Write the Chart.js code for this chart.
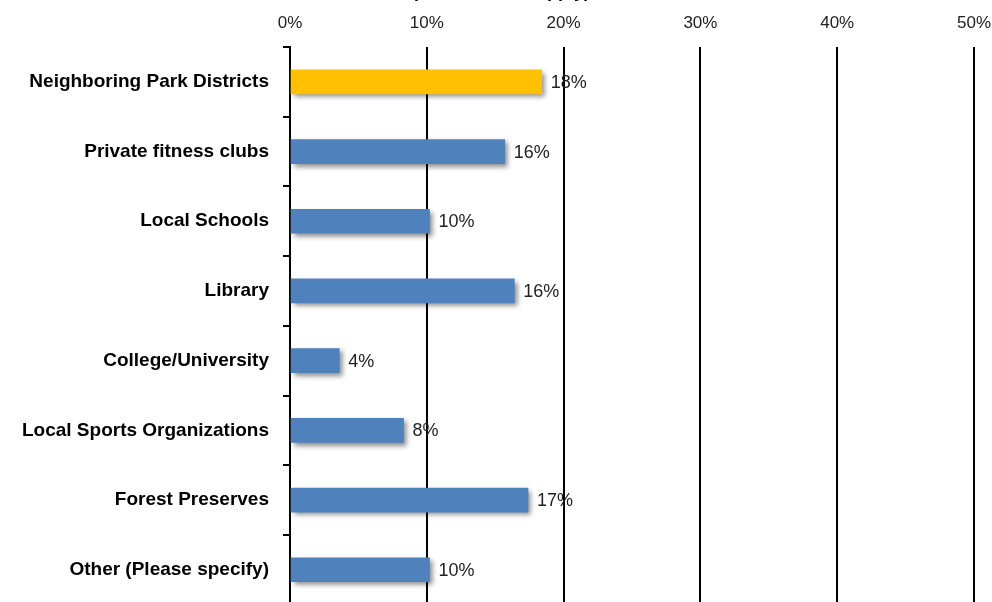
<!DOCTYPE html>
<html>
<head>
<meta charset="utf-8">
<script src="https://cdn.jsdelivr.net/npm/chart.js@4.4.1/dist/chart.umd.min.js"></script>
<style>
  html, body { margin: 0; padding: 0; background: #ffffff; overflow: hidden; }
  #wrap { width: 992px; height: 630px; position: relative; }
</style>
</head>
<body>
<div id="wrap"><canvas id="c" width="992" height="630"></canvas></div>
<script>
// Survey categories (top to bottom) and share of respondents, in percent
const categories = [
  'Neighboring Park Districts',
  'Private fitness clubs',
  'Local Schools',
  'Library',
  'College/University',
  'Local Sports Organizations',
  'Forest Preserves',
  'Other (Please specify)'
];
const shares = [18.4, 15.7, 10.2, 16.4, 3.6, 8.3, 17.4, 10.2];
const highlighted = ['Neighboring Park Districts'];
const axisMin = 0;
const axisMax = 50;
const axisStep = 10;
const titleText = '(check all that apply)';

const BLUE = '#4f81bd';
const GOLD = '#ffc000';
const barColors = categories.map(c => highlighted.includes(c) ? GOLD : BLUE);

const labelFont = "'Liberation Sans', Arial, sans-serif";
const numFont = "'Liberation Sans', Arial, sans-serif";

// Soft drop shadow behind the bars
const barShadow = {
  id: 'barShadow',
  beforeDatasetsDraw(chart) {
    const ctx = chart.ctx;
    ctx.save();
    ctx.shadowColor = 'rgba(0,0,0,0.45)';
    ctx.shadowBlur = 5;
    ctx.shadowOffsetX = 3;
    ctx.shadowOffsetY = 3;
  },
  afterDatasetsDraw(chart) {
    chart.ctx.restore();
  }
};

// Percentage labels at the end of each bar, plus the heading above the plot
const valueLabels = {
  id: 'valueLabels',
  afterDraw(chart) {
    const ctx = chart.ctx;
    const meta = chart.getDatasetMeta(0);
    ctx.save();
    ctx.font = '18px ' + numFont;
    ctx.fillStyle = '#222222';
    ctx.textAlign = 'left';
    ctx.textBaseline = 'middle';
    meta.data.forEach((bar, i) => {
      ctx.fillText(Math.round(shares[i]) + '%', bar.x + 9, bar.y + 1);
    });
    ctx.font = 'bold 18px ' + labelFont;
    ctx.fillStyle = '#000000';
    ctx.textAlign = 'right';
    ctx.textBaseline = 'alphabetic';
    ctx.fillText(titleText, 590, -3);
    ctx.restore();
  }
};

new Chart(document.getElementById('c'), {
  type: 'bar',
  data: {
    labels: categories,
    datasets: [{
      data: shares,
      backgroundColor: barColors,
      borderWidth: 0,
      barThickness: 24
    }]
  },
  options: {
    indexAxis: 'y',
    responsive: false,
    animation: false,
    layout: { padding: { top: 0, left: 0, right: 0, bottom: 0 } },
    plugins: {
      legend: { display: false },
      tooltip: { enabled: false }
    },
    scales: {
      x: {
        position: 'top',
        min: axisMin,
        max: axisMax,
        ticks: {
          stepSize: axisStep,
          padding: 13,
          color: '#222222',
          font: { family: numFont, size: 17 },
          callback: v => v + '%'
        },
        grid: {
          color: '#000000',
          lineWidth: 2,
          drawTicks: false
        },
        border: { display: false },
        afterFit(scale) {
          scale.height = 47;
          scale.paddingLeft = 0;
          scale.paddingRight = 18;
        }
      },
      y: {
        ticks: {
          padding: 14,
          color: '#000000',
          font: { family: labelFont, size: 19, weight: 'bold' }
        },
        grid: {
          offset: true,
          drawOnChartArea: false,
          color: '#000000',
          lineWidth: 2,
          tickLength: 7
        },
        border: { display: true, color: '#000000', width: 2 },
        afterFit(scale) { scale.width = 290; }
      }
    }
  },
  plugins: [barShadow, valueLabels]
});
</script>
</body>
</html>
